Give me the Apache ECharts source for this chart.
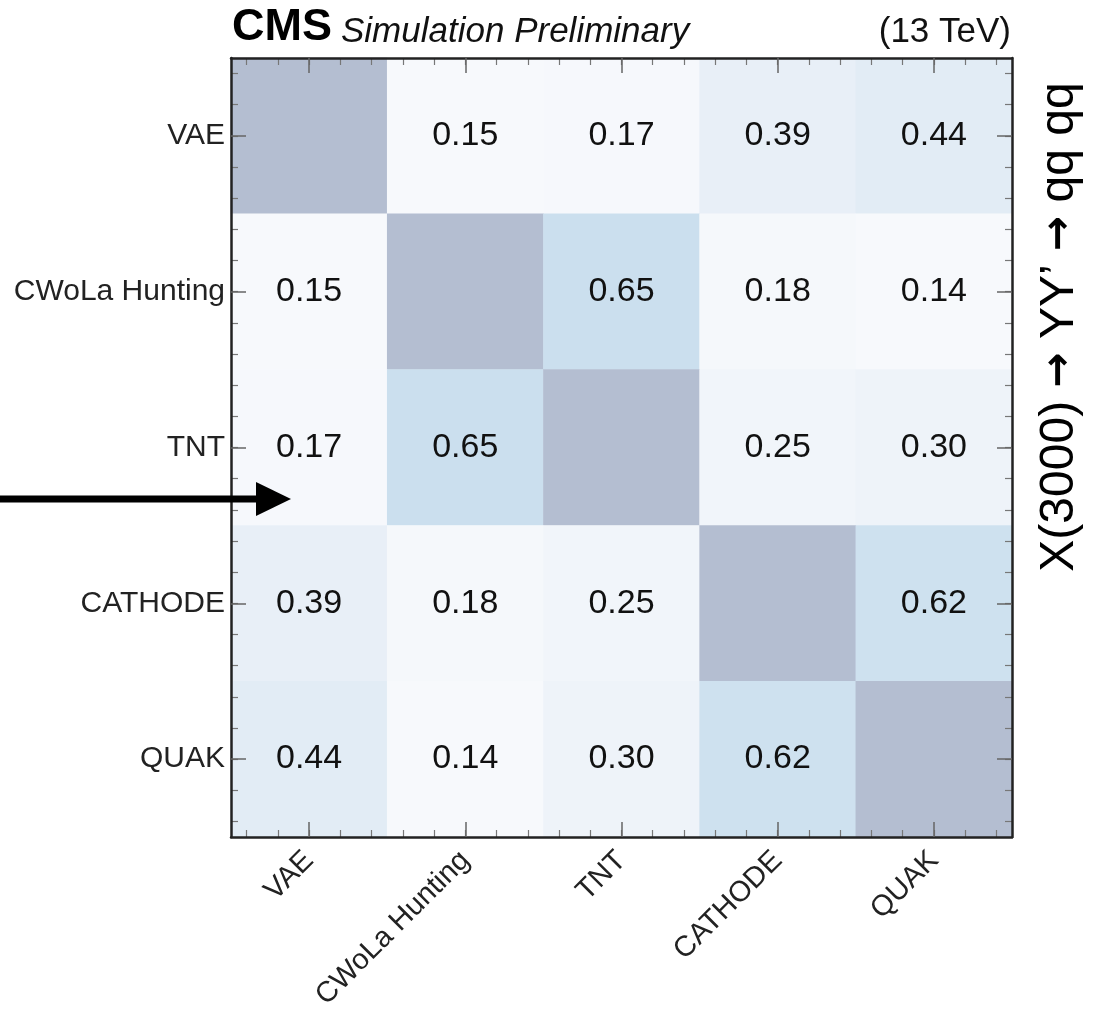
<!DOCTYPE html>
<html>
<head>
<meta charset="utf-8">
<title>Anomaly-score correlations</title>
<script src="https://cdn.jsdelivr.net/npm/echarts@6/dist/echarts.min.js"></script>
<style>
  html, body { margin: 0; padding: 0; background: #ffffff; }
  #chart { width: 1093px; height: 1013px; }
</style>
</head>
<body>
<div id="chart"></div>
<script>
// Methods compared (same order on both axes; first row at the top)
const methods = ['VAE', 'CWoLa Hunting', 'TNT', 'CATHODE', 'QUAK'];

// Pairwise correlation of the methods' selections, one row per method
const rowVAE     = [1.00, 0.15, 0.17, 0.39, 0.44];
const rowCWoLa   = [0.15, 1.00, 0.65, 0.18, 0.14];
const rowTNT     = [0.17, 0.65, 1.00, 0.25, 0.30];
const rowCATHODE = [0.39, 0.18, 0.25, 1.00, 0.62];
const rowQUAK    = [0.44, 0.14, 0.30, 0.62, 1.00];
const matrixRows = [rowVAE, rowCWoLa, rowTNT, rowCATHODE, rowQUAK];

const energyLabel = '(13 TeV)';

const FONT = '"Liberation Sans", Arial, Helvetica, sans-serif';

// heatmap cells: [column, row, value]
const cells = [];
matrixRows.forEach((row, r) => row.forEach((v, c) => cells.push([c, r, v])));

// five sub-ticks per cell for the minor tick marks
const SUB = 5;
const minorSlots = Array.from({ length: methods.length * SUB }, () => '');

const frameLine = { show: true, lineStyle: { color: '#222', width: 2.5 } };
const majorTick = { show: true, inside: true, alignWithLabel: true, length: 15,
                    lineStyle: { color: '#666', width: 1.5 } };
const minorTick = { show: true, inside: true, alignWithLabel: true, length: 7,
                    lineStyle: { color: '#777', width: 1.2 } };

function frameAxis(pos, withLabels, isY) {
  return {
    type: 'category', data: methods, position: pos, inverse: !!isY, z: 5,
    axisLine: frameLine, axisTick: majorTick, splitLine: { show: false },
    axisLabel: withLabels
      ? (isY
          ? { show: true, fontSize: 30, color: '#222', fontFamily: FONT, margin: 6 }
          : { show: true, fontSize: 29, color: '#222', fontFamily: FONT, rotate: 45, margin: 19 })
      : { show: false }
  };
}
function minorAxis(pos) {
  return {
    type: 'category', data: minorSlots, position: pos, z: 4,
    axisLine: { show: false }, axisTick: minorTick,
    axisLabel: { show: false }, splitLine: { show: false }
  };
}

const chart = echarts.init(document.getElementById('chart'), null, { renderer: 'canvas' });

chart.setOption({
  animation: false,
  backgroundColor: '#ffffff',
  grid: { left: 231, right: 81, top: 58, bottom: 176, outerBoundsMode: 'none', containLabel: false },
  xAxis: [
    frameAxis('bottom', true, false),
    frameAxis('top', false, false),
    minorAxis('bottom'),
    minorAxis('top')
  ],
  yAxis: [
    frameAxis('left', true, true),
    frameAxis('right', false, true),
    minorAxis('left'),
    minorAxis('right')
  ],
  visualMap: {
    show: false, type: 'continuous', dimension: 2, min: 0, max: 1,
    inRange: { color: ['#fefeff', '#f4f7fb', '#e7eff7', '#cfe2ef', '#c0d7eb', '#b4bed1'] }
  },
  series: [{
    type: 'heatmap',
    xAxisIndex: 0, yAxisIndex: 0,
    data: cells,
    z: 1,
    itemStyle: { borderWidth: 0 },
    emphasis: { disabled: true },
    label: {
      show: true,
      fontSize: 34, color: '#111', fontFamily: FONT,
      formatter: p => (p.value[0] === p.value[1] ? '' : p.value[2].toFixed(2))
    }
  }],
  graphic: [
    { type: 'text', x: 232, y: 50, z: 10,
      style: { text: 'CMS', font: 'bold 45px ' + FONT, fill: '#000', textAlign: 'left', textVerticalAlign: 'bottom' } },
    { type: 'text', x: 341, y: 50, z: 10,
      style: { text: 'Simulation Preliminary', font: 'italic 35px ' + FONT, fill: '#111', textAlign: 'left', textVerticalAlign: 'bottom' } },
    { type: 'text', x: 1011, y: 50, z: 10,
      style: { text: energyLabel, font: '35px ' + FONT, fill: '#111', textAlign: 'right', textVerticalAlign: 'bottom' } },
    // decay chain, written upwards along the right edge
    { type: 'text', x: 1060, y: 327, rotation: Math.PI / 2, z: 10,
      style: {
        text: 'X(3000) {a|\u2192} YY\u2019 {a|\u2192} qq qq',
        font: '48px ' + FONT, fill: '#000', textAlign: 'center', textVerticalAlign: 'middle',
        rich: { a: { fontFamily: '"DejaVu Sans", sans-serif', fontWeight: 'bold', fontSize: 42, fill: '#000' } }
      } },
    // pointer arrow on the left
    { type: 'line', z: 20,
      shape: { x1: 0, y1: 499, x2: 262, y2: 499 },
      style: { stroke: '#000', lineWidth: 7 } },
    { type: 'polygon', z: 20,
      shape: { points: [[256, 482], [291, 499], [256, 516]] },
      style: { fill: '#000' } }
  ]
});
</script>
</body>
</html>
